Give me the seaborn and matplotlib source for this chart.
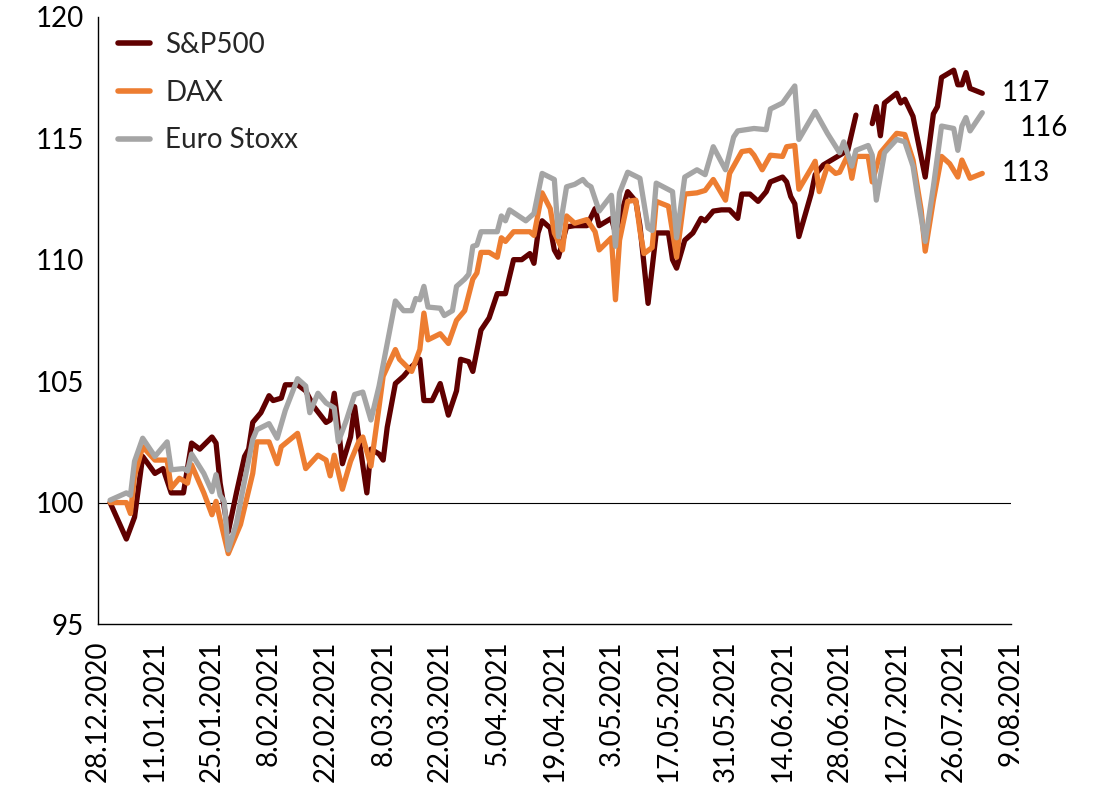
import numpy as np
import pandas as pd
import matplotlib
matplotlib.use("Agg")
import matplotlib.pyplot as plt
import seaborn as sns

# tage seit 28.12.2020, index 28.12.2020 = 100
start = pd.Timestamp("2020-12-28")

sp_day = [3, 7, 9, 11, 14, 16, 18, 21, 23, 25, 28, 29, 30, 32, 34, 36, 37, 38, 40, 42,
          43, 45, 46, 49, 51, 53, 56, 57, 58, 59, 60, 62, 63, 64, 66, 67, 69, 70, 71, 73,
          75, 77, 79, 80, 82, 84, 86, 88, 89, 91, 92, 94, 96, 98, 100, 102, 104, 106, 107, 108,
          109, 111, 112, 113, 115, 117, 120, 122, 123, 126, 127, 130, 132, 133, 135, 137, 140, 141, 142, 144,
          146, 148, 149, 151, 153, 155, 157, 158, 160, 162, 164, 165, 168, 169, 170, 171, 172, 175, 176, 178,
          180, 182, 184, 186, 188, 190, 191, 192, 193, 196, 197, 198, 200, 203, 205, 206, 207, 210, 211, 212,
          213, 214, 217]
sp_val = [100.0, 98.5, 99.4, 101.9, 101.2, 101.4, 100.4, 100.4, 102.45, 102.2, 102.7, 102.45, 100.8, 98.8, 100.4, 101.9, 102.2, 103.3, 103.7, 104.4,
          104.2, 104.3, 104.85, 104.85, 104.6, 103.95, 103.3, 103.4, 104.5, 103.1, 101.6, 102.7, 103.95, 102.7, 100.4, 102.2, 102.0, 101.75, 103.1, 104.9,
          105.2, 105.6, 105.9, 104.2, 104.2, 104.9, 103.6, 104.6, 105.9, 105.8, 105.4, 107.1, 107.6, 108.6, 108.6, 110.0, 110.0, 110.25, 109.85, 111.1,
          111.6, 111.3, 110.4, 110.1, 111.35, 111.4, 111.4, 112.1, 111.4, 111.7, 111.1, 112.8, 112.4, 111.4, 108.2, 111.1, 111.1, 110.0, 109.65, 110.8,
          111.1, 111.7, 111.6, 112.0, 112.05, 112.05, 111.7, 112.7, 112.7, 112.4, 112.8, 113.2, 113.4, 113.2, 112.6, 112.3, 110.95, 112.7, 113.5, 113.9,
          114.1, 114.3, 114.5, 115.95, np.nan, 115.6, 116.3, 115.1, 116.45, 116.85, 116.45, 116.6, 115.9, 113.4, 116.0, 116.3, 117.5, 117.8, 117.2, 117.2,
          117.7, 117.05, 116.85]

dax_day = [3, 7, 8, 9, 11, 14, 17, 18, 20, 22, 23, 26, 28, 29, 30, 32, 35, 38, 39, 42,
           44, 45, 49, 51, 54, 56, 57, 58, 60, 62, 64, 65, 67, 69, 70, 73, 74, 77, 79, 80,
           81, 84, 86, 88, 90, 92, 93, 94, 96, 98, 99, 100, 102, 106, 107, 109, 111, 112, 114, 115,
           117, 120, 122, 123, 126, 127, 128, 130, 132, 133, 134, 136, 137, 140, 142, 144, 147, 149, 151, 154,
           155, 158, 160, 161, 163, 165, 168, 169, 171, 172, 175, 176, 177, 179, 181, 182, 184, 185, 186, 189,
           190, 192, 196, 198, 200, 202, 203, 205, 207, 209, 211, 212, 214, 217]
dax_val = [100.0, 100.0, 99.55, 101.1, 102.3, 101.75, 101.75, 100.6, 101.0, 100.8, 101.55, 100.4, 99.5, 100.05, 99.3, 97.9, 99.1, 101.2, 102.5, 102.5,
           101.6, 102.3, 102.85, 101.4, 101.95, 101.75, 101.1, 101.95, 100.55, 101.7, 102.5, 102.7, 101.5, 103.95, 105.2, 106.3, 105.9, 105.4, 106.3, 107.8,
           106.7, 106.95, 106.55, 107.5, 107.9, 109.2, 109.45, 110.3, 110.3, 110.1, 110.9, 110.75, 111.15, 111.15, 111.0, 112.75, 112.1, 111.1, 110.4, 111.8,
           111.5, 111.65, 111.15, 110.4, 110.9, 108.35, 110.8, 112.4, 112.45, 111.2, 110.25, 110.5, 112.4, 112.2, 110.1, 112.7, 112.75, 112.85, 113.3, 112.45,
           113.55, 114.45, 114.5, 114.3, 113.7, 114.3, 114.25, 114.65, 114.7, 112.9, 113.75, 114.05, 112.8, 113.85, 113.55, 113.6, 114.3, 113.35, 114.25, 114.25,
           113.2, 114.4, 115.2, 115.15, 114.1, 112.05, 110.35, 112.45, 114.25, 113.95, 113.4, 114.1, 113.35, 113.55]

sx_day = [3, 7, 8, 9, 11, 14, 17, 18, 21, 22, 23, 26, 28, 29, 30, 31, 32, 34, 36, 38,
          39, 42, 44, 46, 49, 51, 52, 54, 56, 58, 59, 61, 63, 65, 67, 69, 71, 73, 75, 77,
          78, 79, 80, 81, 84, 85, 87, 88, 90, 91, 92, 93, 94, 98, 99, 100, 101, 105, 107, 109,
          112, 113, 115, 117, 119, 120, 121, 123, 126, 127, 128, 130, 133, 135, 136, 137, 141, 142, 144, 147,
          149, 151, 154, 156, 157, 161, 164, 165, 168, 171, 172, 176, 179, 182, 183, 185, 186, 189, 190, 191,
          193, 196, 198, 200, 201, 203, 205, 207, 210, 211, 212, 213, 214, 217]
sx_val = [100.1, 100.4, 100.3, 101.7, 102.65, 101.9, 102.5, 101.35, 101.4, 101.3, 102.0, 101.2, 100.45, 101.15, 100.3, 100.05, 98.05, 99.15, 100.9, 102.6,
          103.0, 103.25, 102.65, 103.8, 105.1, 104.8, 103.7, 104.5, 104.1, 103.9, 102.5, 103.4, 104.45, 104.55, 103.4, 104.8, 106.55, 108.3, 107.9, 107.9,
          108.4, 108.35, 108.9, 108.05, 108.0, 107.7, 107.9, 108.9, 109.2, 109.4, 110.55, 110.6, 111.15, 111.15, 111.8, 111.6, 112.05, 111.6, 111.9, 113.55,
          113.3, 110.95, 113.0, 113.1, 113.3, 113.1, 113.0, 112.0, 112.65, 110.55, 112.75, 113.6, 113.35, 111.3, 111.2, 113.15, 112.8, 110.9, 113.4, 113.7,
          113.5, 114.65, 113.7, 115.05, 115.3, 115.4, 115.35, 116.2, 116.45, 117.15, 114.95, 116.1, 115.2, 114.4, 114.85, 113.85, 114.5, 114.7, 114.3, 112.45,
          114.4, 114.95, 114.85, 113.85, 112.75, 110.75, 113.0, 115.5, 115.4, 114.5, 115.5, 115.85, 115.3, 116.05]

series = ["S&P500", "DAX", "Euro Stoxx"]
colors = ["#600000", "#ED7D31", "#A5A5A5"]
end_labels = ["117", "113", "116"]
tick_days = list(range(0, 225, 14))


def make_frame(name, days, vals):
    df = pd.DataFrame({"day": days, "value": vals})
    df["date"] = start + pd.to_timedelta(df["day"], unit="D")
    df["index"] = name
    # luecke (feiertag) -> eigenes segment
    df["seg"] = df["value"].isna().cumsum()
    return df.dropna()


df = pd.concat([make_frame("S&P500", sp_day, sp_val),
                make_frame("DAX", dax_day, dax_val),
                make_frame("Euro Stoxx", sx_day, sx_val)], ignore_index=True)

sns.set_theme(style="white")
plt.rcParams["font.family"] = ["Lato", "DejaVu Sans"]

fig = plt.figure(figsize=(11.12, 7.97), dpi=100)
ax = fig.add_axes([0.088, 0.217, 0.821, 0.762])

sns.lineplot(data=df, x="date", y="value", hue="index", hue_order=series,
             units="seg", estimator=None, palette=dict(zip(series, colors)),
             linewidth=3.8, ax=ax)

ax.axhline(100, color="black", linewidth=0.8, zorder=1)

ax.set_xlim(start, start + pd.Timedelta(days=224))
ax.set_ylim(95, 120)
ax.set_yticks(range(95, 121, 5))
ticks = [start + pd.Timedelta(days=d) for d in tick_days]
ax.set_xticks(ticks)
ax.set_xticklabels([f"{t.day}.{t.month:02d}.{t.year}" for t in ticks], rotation=90)
ax.set_xlabel("")
ax.set_ylabel("")

for side in ["top", "right"]:
    ax.spines[side].set_visible(False)
for side in ["left", "bottom"]:
    ax.spines[side].set_color("black")
    ax.spines[side].set_linewidth(1)
ax.tick_params(axis="both", which="major", labelsize=20, direction="out",
               length=6, width=1, color="black", labelcolor="black")
ax.tick_params(axis="x", pad=6)
ax.tick_params(axis="y", pad=4)

# endwerte rechts
offsets = [(14, 0), (14, 0), (27, -11)]
for name, lab, off in zip(series, end_labels, offsets):
    last = df[df["index"] == name].iloc[-1]
    ax.annotate(lab, xy=(last["date"], last["value"]), xytext=off,
                textcoords="offset points", va="center", ha="left",
                fontsize=20, color="black", annotation_clip=False)

handles, labels = ax.get_legend_handles_labels()
for h in handles:
    h.set_linewidth(4)
ax.legend(handles, labels, loc="upper left", bbox_to_anchor=(0.022, 0.975),
          frameon=False, fontsize=20, handlelength=1.15, handletextpad=0.55,
          labelspacing=0.78, borderpad=0, borderaxespad=0)

fig.savefig("out.png", dpi=100)
